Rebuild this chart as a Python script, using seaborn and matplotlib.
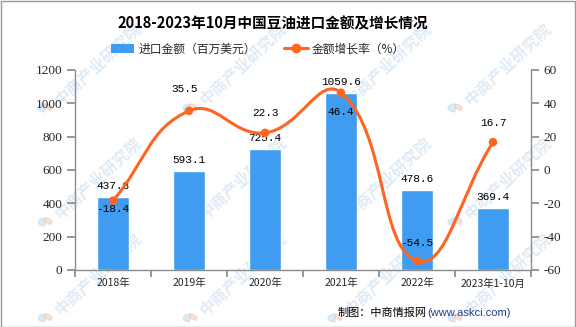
import numpy as np
import pandas as pd
import matplotlib
matplotlib.use("Agg")
import matplotlib.pyplot as plt
import seaborn as sns
from matplotlib.path import Path
from matplotlib.patches import PathPatch, Patch, Rectangle, Wedge
from matplotlib.lines import Line2D

# ---- data ----
categories = ["2018年", "2019年", "2020年", "2021年", "2022年", "2023年1-10月"]
amount = [437.8, 593.1, 725.4, 1059.6, 478.6, 369.4]
growth = [-18.4, 35.5, 22.3, 46.4, -54.5, 16.7]
left_ticks = [0, 200, 400, 600, 800, 1000, 1200]
right_ticks = [-60, -40, -20, 0, 20, 40, 60]
title = "2018-2023年10月中国豆油进口金额及增长情况"
legend_labels = ["进口金额（百万美元）", "金额增长率（%）"]
source_a = "制图：中商情报网"
source_b = "(www.askci.com)"
watermark = "中商产业研究院"

BLUE = "#3f9cf0"
ORANGE = "#ff6420"
GRAY = "#8c8c8c"

sns.set_theme(style="ticks")
plt.rcParams["font.family"] = ["Noto Sans CJK SC", "DejaVu Sans"]
plt.rcParams["axes.unicode_minus"] = False

W, H = 576, 327
fig = plt.figure(figsize=(W / 100, H / 100), dpi=100)
fig.patch.set_facecolor("white")

# axes placement (pixels measured from reference)
x0, x1, ytop, ybot = 75, 531, 70, 270
ax = fig.add_axes([x0 / W, 1 - ybot / H, (x1 - x0) / W, (ybot - ytop) / H])
ax.set_facecolor("none")

df = pd.DataFrame({"cat": categories, "amount": amount, "growth": growth})
df["pos"] = np.arange(len(df))

sns.barplot(data=df, x="cat", y="amount", ax=ax, color=BLUE, saturation=1,
            width=0.41, zorder=2)
ax.set_xlim(-0.5, len(df) - 0.5)
ax.set_ylim(left_ticks[0], left_ticks[-1])
ax.set_yticks(left_ticks)
ax.set_xlabel("")
ax.set_ylabel("")

# x ticks: marks at category boundaries, labels at centres
ax.set_xticks(np.arange(-0.5, len(df), 1.0))
ax.set_xticklabels([""] * (len(df) + 1))
ax.set_xticks(df["pos"], minor=True)
ax.set_xticklabels(categories, minor=True, fontsize=7.5)
ax.tick_params(axis="x", which="major", length=5, color=GRAY, direction="out")
ax.tick_params(axis="x", which="minor", length=0, pad=6)
ax.tick_params(axis="y", length=6, color=GRAY, direction="out", pad=3)
for lab in ax.get_yticklabels():
    lab.set_fontfamily("Liberation Serif")
    lab.set_fontsize(9.5)

for s in ["top", "right"]:
    ax.spines[s].set_visible(False)
for s in ["left", "bottom"]:
    ax.spines[s].set_color(GRAY)
    ax.spines[s].set_linewidth(1.0)

# bar value labels
for i, v in enumerate(amount):
    ax.annotate(f"{v:.1f}", (i, v), xytext=(0, 8), textcoords="offset points",
                ha="center", va="center", fontsize=8, family="Liberation Mono",
                color="black", zorder=5)

# secondary axis
ax2 = ax.twinx()
ax2.set_facecolor("none")
ax2.set_ylim(right_ticks[0], right_ticks[-1])
ax2.set_yticks(right_ticks)
ax2.tick_params(axis="y", length=6, color=GRAY, direction="out", pad=3)
for lab in ax2.get_yticklabels():
    lab.set_fontfamily("Liberation Serif")
    lab.set_fontsize(9.5)
for s in ["top", "left", "bottom"]:
    ax2.spines[s].set_visible(False)
ax2.spines["right"].set_color(GRAY)
ax2.spines["right"].set_linewidth(1.0)

# smooth curve (ECharts-like bezier smoothing computed in display space)
pts = ax2.transData.transform(np.column_stack([df["pos"], df["growth"]]))
n = len(pts)
smooth = 0.45
cps_prev = [None] * n
cps_next = [None] * n
for i in range(n):
    cur = pts[i]
    prev = pts[i - 1] if i > 0 else cur
    nxt = pts[i + 1] if i < n - 1 else cur
    v = nxt - prev
    lp = np.hypot(*(cur - prev))
    ln = np.hypot(*(nxt - cur))
    tot = lp + ln
    r = ln / tot if tot > 0 else 0.5
    cps_prev[i] = cur - v * smooth * (1 - r)
    cps_next[i] = cur + v * smooth * r
verts = [pts[0]]
codes = [Path.MOVETO]
for i in range(n - 1):
    verts += [cps_next[i], cps_prev[i + 1], pts[i + 1]]
    codes += [Path.CURVE4] * 3
verts = ax2.transData.inverted().transform(np.array(verts))
curve = PathPatch(Path(verts, codes), facecolor="none", edgecolor=ORANGE,
                  lw=2.2, transform=ax2.transData, zorder=3, capstyle="round")
ax2.add_patch(curve)

sns.scatterplot(data=df, x="pos", y="growth", ax=ax2, color=ORANGE, s=38,
                edgecolor="none", zorder=4, legend=False)
ax2.set_xlim(-0.5, len(df) - 0.5)
ax2.set_xlabel("")
ax2.set_ylabel("")

# growth labels (offsets in points)
g_offsets = [(0, -6), (-3, 16), (0, 14), (0, -14), (0, 13), (0, 14)]
for i, v in enumerate(growth):
    dx, dy = g_offsets[i]
    ax2.annotate(f"{v:.1f}", (i, v), xytext=(dx, dy), textcoords="offset points",
                 ha="center", va="center", fontsize=8, family="Liberation Mono",
                 color="black", zorder=6)

# legend
handles = [Patch(facecolor=BLUE, edgecolor="none"),
           Line2D([], [], color=ORANGE, lw=2.2, marker="o", ms=6)]
fig.legend(handles, legend_labels, loc="center", bbox_to_anchor=(258 / W, 1 - 49 / H),
           ncol=2, frameon=False, fontsize=8.5, handlelength=2.0, handleheight=0.75,
           handletextpad=0.35, columnspacing=2.4, borderpad=0)

# title
fig.text(273 / W, 1 - 23 / H, title, ha="center", va="center", fontsize=10.5,
         fontweight="bold", color="black")

# source
fig.text(427 / W, 1 - 313 / H, source_a, ha="right", va="center", fontsize=8,
         color="black")
fig.text(427 / W, 1 - 313 / H, source_b, ha="left", va="center", fontsize=8,
         color="#1f3f8f", family="Liberation Sans")

# watermark grid (behind everything)
for cx in [45, 190, 335, 455]:
    for cy in [108, 222, 318]:
        fig.text((cx + 12) / W, 1 - (cy - 6) / H, watermark, rotation=43,
                 rotation_mode="anchor", ha="left", va="center", fontsize=11.5,
                 color="#d6e7f5", alpha=0.8, zorder=-5, fontweight="bold")
        fig.patches.append(Wedge((cx / W, 1 - cy / H), 0.012, 90, 270,
                                 transform=fig.transFigure, color="#b9d7f0",
                                 alpha=0.5, zorder=-5))
        fig.patches.append(Wedge((cx / W, 1 - cy / H), 0.012, -40, 90,
                                 transform=fig.transFigure, color="#f7c3b0",
                                 alpha=0.5, zorder=-5))

# outer border
fig.patches.append(Rectangle((0.5 / W, 0.5 / H), 1 - 1.5 / W, 1 - 1.5 / H,
                             transform=fig.transFigure, fill=False,
                             edgecolor="#9a9a9a", lw=1.0, zorder=10))

fig.savefig("out.png", dpi=100, facecolor="white")
